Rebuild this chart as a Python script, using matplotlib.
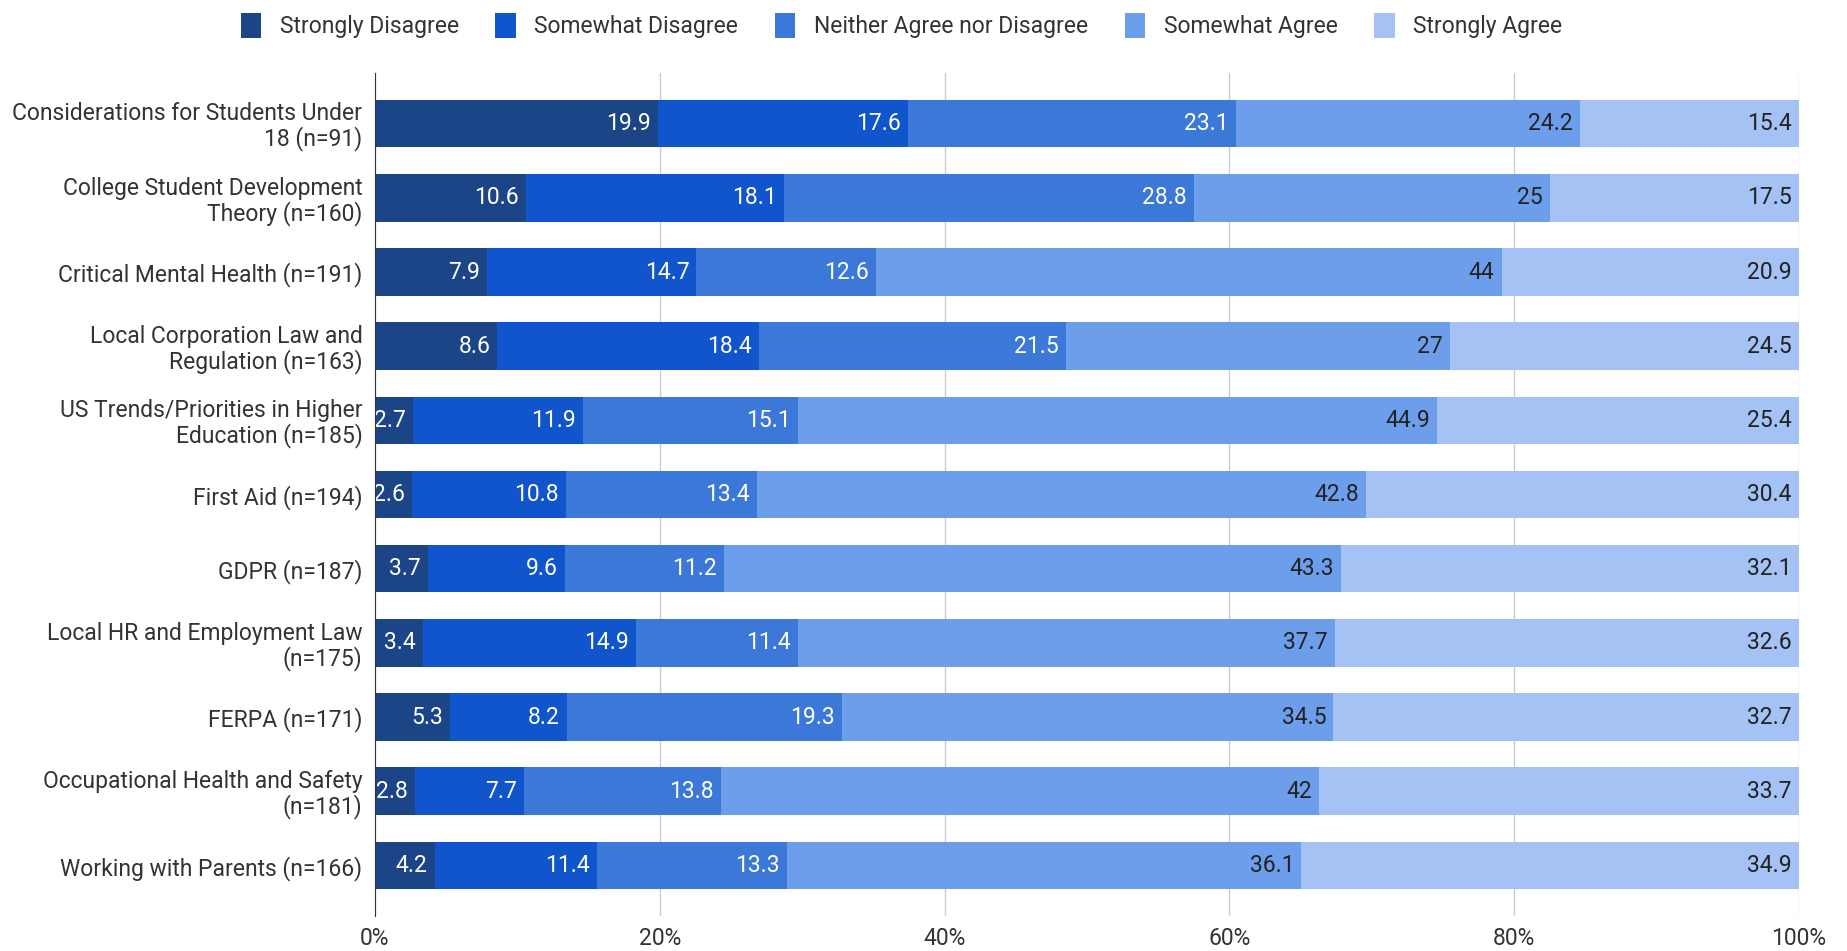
#!/usr/bin/env python3

import numpy as np
import matplotlib.pyplot as plt

topics = [
    'Considerations for Students Under\n18 (n=91)',
    'College Student Development\nTheory (n=160)',
    'Critical Mental Health (n=191)',
    'Local Corporation Law and\nRegulation (n=163)',
    'US Trends/Priorities in Higher\nEducation (n=185)',
    'First Aid (n=194)',
    'GDPR (n=187)',
    'Local HR and Employment Law\n(n=175)',
    'FERPA (n=171)',
    'Occupational Health and Safety\n(n=181)',
    'Working with Parents (n=166)',
]
responses = ['Strongly Disagree', 'Somewhat Disagree', 'Neither Agree nor Disagree',
             'Somewhat Agree', 'Strongly Agree']

strongly_disagree = [19.9, 10.6, 7.9, 8.6, 2.7, 2.6, 3.7, 3.4, 5.3, 2.8, 4.2]
somewhat_disagree = [17.6, 18.1, 14.7, 18.4, 11.9, 10.8, 9.6, 14.9, 8.2, 7.7, 11.4]
neither = [23.1, 28.8, 12.6, 21.5, 15.1, 13.4, 11.2, 11.4, 19.3, 13.8, 13.3]
somewhat_agree = [24.2, 25, 44, 27, 44.9, 42.8, 43.3, 37.7, 34.5, 42, 36.1]
strongly_agree = [15.4, 17.5, 20.9, 24.5, 25.4, 30.4, 32.1, 32.6, 32.7, 33.7, 34.9]

colors = ['#1c4587', '#1155cc', '#3c78d8', '#6d9eeb', '#a4c2f4']
text_colors = ['white', 'white', 'white', '#222222', '#222222']

plt.rcParams['font.family'] = ['Roboto', 'DejaVu Sans']
FS = 16.5

if __name__ == '__main__':
    data = np.array([strongly_disagree, somewhat_disagree, neither,
                     somewhat_agree, strongly_agree])
    pct = data / data.sum(axis=0) * 100

    fig = plt.figure(figsize=(18.47, 9.51), dpi=100)
    ax = fig.add_axes([0.203, 0.037, 0.771, 0.886])
    y = np.arange(len(topics))
    left = np.zeros(len(topics))
    for k in range(len(responses)):
        ax.barh(y, pct[k], left=left, height=0.64, color=colors[k],
                label=responses[k], zorder=2)
        for i in range(len(topics)):
            ax.text(left[i] + pct[k][i] - 0.5, y[i], '%g' % data[k][i],
                    ha='right', va='center', color=text_colors[k],
                    fontsize=FS, zorder=3)
        left += pct[k]

    ax.set_xlim(0, 100)
    ax.set_ylim(len(topics) - 0.32, -0.68)
    ax.set_xticks([0, 20, 40, 60, 80, 100])
    ax.set_xticklabels(['0%', '20%', '40%', '60%', '80%', '100%'])
    ax.set_yticks(y)
    ax.set_yticklabels(topics, linespacing=1.05)
    ax.tick_params(axis='both', length=0, labelsize=FS, labelcolor='#333333')
    ax.tick_params(axis='y', pad=9)
    ax.tick_params(axis='x', pad=8)
    ax.grid(axis='x', color='#cccccc', linewidth=1, zorder=0)
    for s in ['top', 'right', 'bottom']:
        ax.spines[s].set_visible(False)
    ax.spines['left'].set_color('#333333')
    ax.spines['left'].set_zorder(4)

    fig.legend(loc='upper center', bbox_to_anchor=(0.488, 1.008), ncol=5,
               frameon=False, fontsize=FS, handlelength=0.9, handleheight=1.3,
               columnspacing=1.6, handletextpad=0.8, labelcolor='#333333')

    plt.savefig('out.png', dpi=100)
